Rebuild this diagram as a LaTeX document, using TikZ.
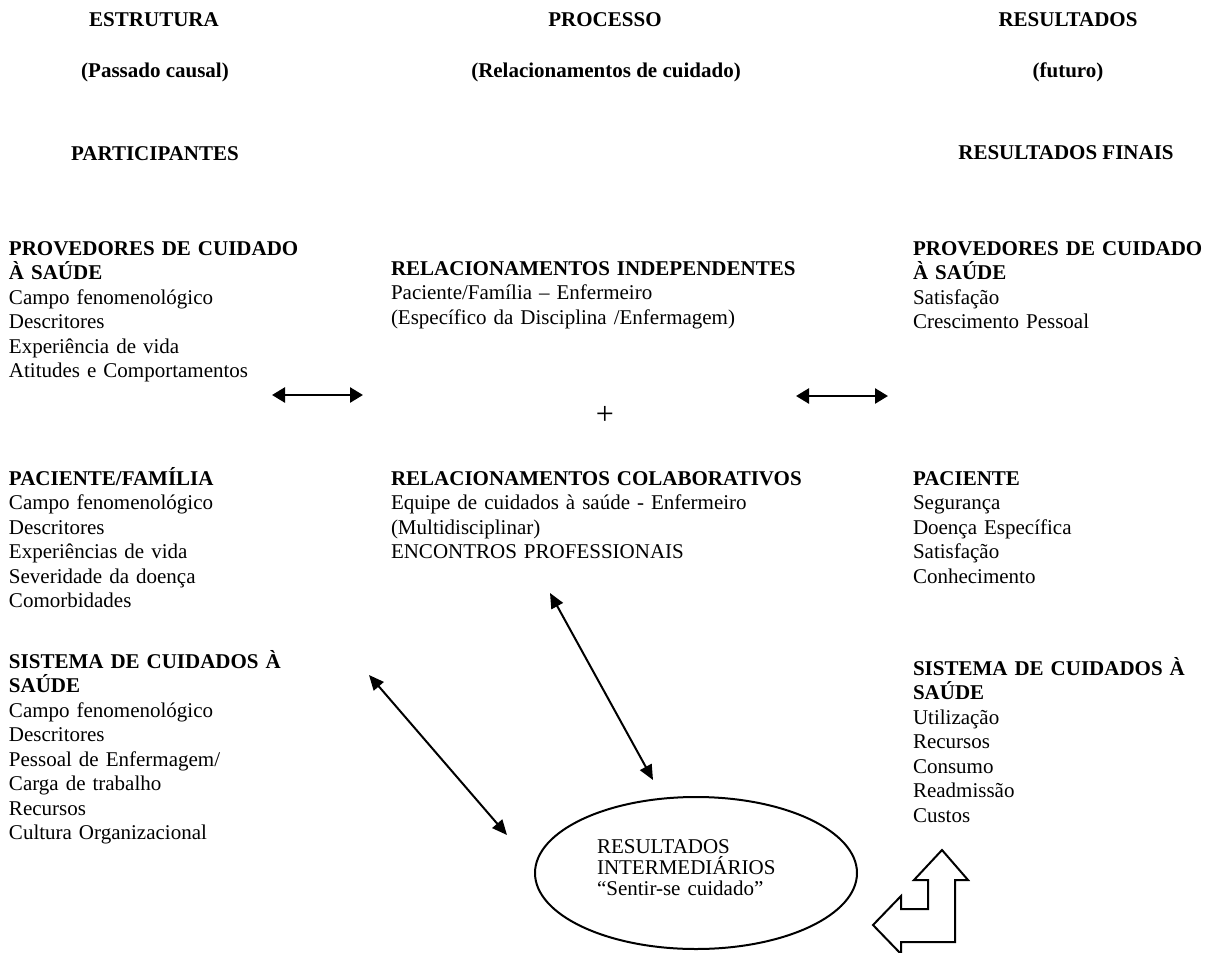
\documentclass[tikz,border=0pt]{standalone}
\usepackage{fontspec}
\setmainfont{Liberation Serif}
\usetikzlibrary{arrows.meta,shapes.geometric}
\begin{document}
\begin{tikzpicture}[x=1pt,y=-1pt,
  every node/.style={inner sep=0pt,outer sep=0pt},
  txt/.style={font=\fontsize{21}{24.5}\selectfont},
  blk/.style={txt,anchor=base west,text width=#1,align=left},
  blk/.default=320pt,
  hdr/.style={anchor=base,font=\fontsize{21}{24.5}\selectfont\bfseries},
  harrow/.style={line width=2.6pt,{Triangle[length=13pt,width=15pt]}-{Triangle[length=13pt,width=15pt]}},
  darrow/.style={line width=2pt,{Triangle[length=15pt,width=13pt]}-{Triangle[length=15pt,width=13pt]}},
  blockarrow/.style={draw,line width=2pt,line join=miter,fill=white},
  oval/.style={draw,ellipse,line width=2pt,minimum width=322pt,minimum height=152pt}
  ]
\useasboundingbox[fill=white] (0,0) rectangle (1210,953);

% headers
\node[hdr] (h1) at (154,26) {ESTRUTURA};
\node[hdr] (h2) at (155,77) {(Passado causal)};
\node[hdr] (h3) at (155,160) {PARTICIPANTES};
\node[hdr] (h4) at (605,27) {PROCESSO};
\node[hdr] (h5) at (606,77) {(Relacionamentos de cuidado)};
\node[hdr] (h6) at (1068,27) {RESULTADOS};
\node[hdr] (h7) at (1068,77) {(futuro)};
\node[hdr] (h8) at (1066,159) {RESULTADOS FINAIS};

% row 1
\node[blk] (l1) at (9,255) {\textbf{PROVEDORES DE CUIDADO}\\ \textbf{À SAÚDE}\\ Campo fenomenológico\\ Descritores\\ Experiência de vida\\ Atitudes e Comportamentos};
\node[blk=430pt] (m1) at (391,275) {\textbf{RELACIONAMENTOS INDEPENDENTES}\\ Paciente/Família – Enfermeiro\\ (Específico da Disciplina /Enfermagem)};
\node[blk=295pt] (r1) at (913,255) {\textbf{PROVEDORES DE CUIDADO}\\ \textbf{À SAÚDE}\\ Satisfação\\ Crescimento Pessoal};

\node[font=\fontsize{32}{32}\selectfont] (plus) at (605,415) {+};

% row 2
\node[blk] (l2) at (9,485) {\textbf{PACIENTE/FAMÍLIA}\\ Campo fenomenológico\\ Descritores\\ Experiências de vida\\ Severidade da doença\\ Comorbidades};
\node[blk=430pt] (m2) at (391,485) {\textbf{RELACIONAMENTOS COLABORATIVOS}\\ Equipe de cuidados à saúde - Enfermeiro\\ (Multidisciplinar)\\ ENCONTROS PROFESSIONAIS};
\node[blk=295pt] (r2) at (913,485) {\textbf{PACIENTE}\\ Segurança\\ Doença Específica\\ Satisfação\\ Conhecimento};

% row 3
\node[blk] (l3) at (9,668) {\textbf{\makebox[290pt][s]{SISTEMA DE CUIDADOS À}}\\ \textbf{SAÚDE}\\ Campo fenomenológico\\ Descritores\\ Pessoal de Enfermagem/\\ Carga de trabalho\\ Recursos\\ Cultura Organizacional};
\node[blk=295pt] (r3) at (913,675) {\textbf{SISTEMA DE CUIDADOS À}\\ \textbf{SAÚDE}\\ Utilização\\ Recursos\\ Consumo\\ Readmissão\\ Custos};

% ellipse
\node[oval] (ov) at (696,873) {};
\node[anchor=base west,text width=200pt,align=left,font=\fontsize{21}{21}\selectfont] (ovt) at (597,853) {RESULTADOS\\ INTERMEDIÁRIOS\\ “Sentir-se cuidado”};

% arrow end points
\coordinate (h1a) at (272,395);
\coordinate (h1b) at (363,395);
\coordinate (h2a) at (796,396);
\coordinate (h2b) at (888,396);
\coordinate (d1a) at (369,675);
\coordinate (d1b) at (507,835);
\coordinate (d2a) at (550,593);
\coordinate (d2b) at (653,780);

\draw[harrow] (h1a) -- (h1b);
\draw[harrow] (h2a) -- (h2b);
\draw[darrow] (d1a) -- (d1b);
\draw[darrow] (d2a) -- (d2b);

% block arrow (up + left)
\draw[blockarrow] (942,850) -- (968,880) -- (955,880) -- (955,942) -- (901,942) -- (901,954)
  -- (873,925) -- (901,896) -- (901,909) -- (928,909) -- (928,880) -- (914,880) -- cycle;
\end{tikzpicture}
\end{document}
